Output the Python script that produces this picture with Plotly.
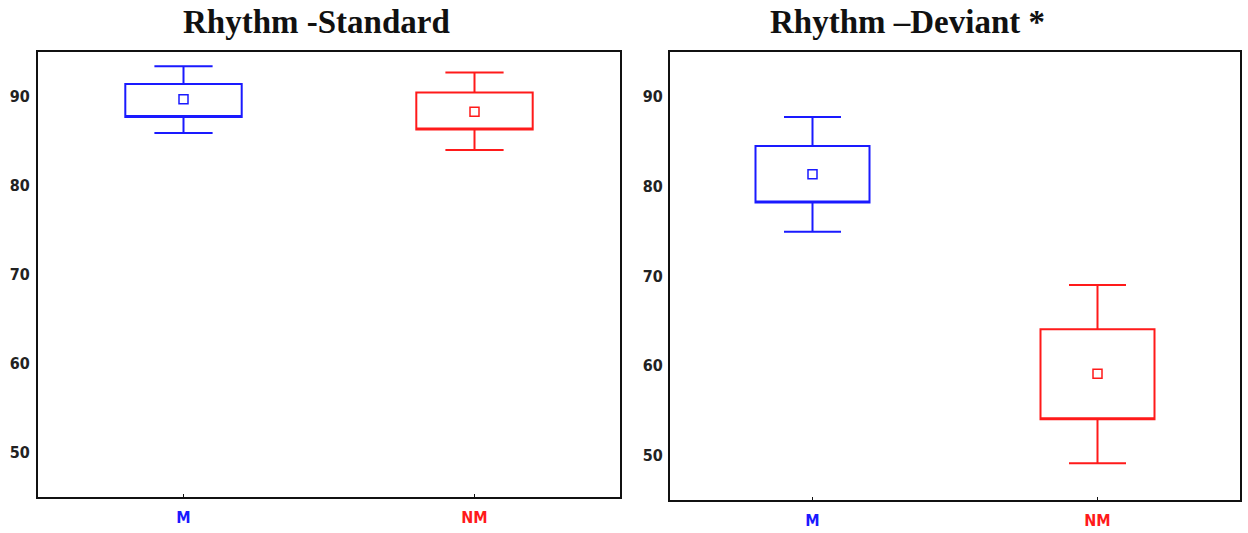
import plotly.graph_objects as go

categories = ["M", "NM"]
cat_colors = ["#1a1aff", "#ff1a1a"]

# Rhythm - Standard
std_mean = [89.7, 88.3]
std_box_low = [87.7, 86.3]
std_box_high = [91.4, 90.45]
std_whisk_low = [85.9, 84.0]
std_whisk_high = [93.4, 92.7]

# Rhythm - Deviant
dev_mean = [81.35, 59.1]
dev_box_low = [78.2, 54.0]
dev_box_high = [84.5, 64.05]
dev_whisk_low = [74.95, 49.1]
dev_whisk_high = [87.75, 69.0]

y_ticks = [50, 60, 70, 80, 90]

W, H = 1248, 533

def px(x):
    return x / W

def py(y):
    return (H - y) / H

fig = go.Figure()

def add_panel(xa, ya, mean, blo, bhi, wlo, whi):
    for i, c in enumerate(categories):
        fig.add_trace(go.Box(
            x=[c], q1=[blo[i]], median=[blo[i]], q3=[bhi[i]],
            lowerfence=[wlo[i]], upperfence=[whi[i]],
            width=0.4, whiskerwidth=0.5,
            line=dict(color=cat_colors[i], width=2),
            fillcolor="rgba(0,0,0,0)",
            xaxis=xa, yaxis=ya, showlegend=False, hoverinfo="skip"))
        fig.add_trace(go.Scatter(
            x=[c], y=[mean[i]], mode="markers",
            marker=dict(symbol="square-open", size=9,
                        color=cat_colors[i], line=dict(width=1.5)),
            xaxis=xa, yaxis=ya, showlegend=False, hoverinfo="skip"))

add_panel("x", "y", std_mean, std_box_low, std_box_high, std_whisk_low, std_whisk_high)
add_panel("x2", "y2", dev_mean, dev_box_low, dev_box_high, dev_whisk_low, dev_whisk_high)

ticktext = [f'<span style="color:{cat_colors[i]}">{c}</span>' for i, c in enumerate(categories)]
tickfont = dict(family="Liberation Sans Narrow, DejaVu Sans Condensed, Liberation Sans, sans-serif",
                size=16, color="#222", weight="bold")

common_x = dict(type="category", range=[-0.5, 1.5], showline=True, mirror=True,
                linecolor="#111", linewidth=2, showgrid=False, zeroline=False,
                tickvals=categories, ticktext=ticktext, ticks="inside", ticklen=3,
                tickcolor="#111", tickfont=tickfont, ticklabelstandoff=5,
                automargin=False)
common_y = dict(range=[45, 95], showline=True, mirror=True, linecolor="#111",
                linewidth=2, showgrid=False, zeroline=False, tickvals=y_ticks,
                ticks="", tickfont=tickfont, automargin=False)

title_font = dict(family="Liberation Serif, Times New Roman, serif", size=33, color="#111")

fig.update_layout(
    width=W, height=H, margin=dict(l=0, r=0, t=0, b=0, autoexpand=False),
    paper_bgcolor="white", plot_bgcolor="white",
    xaxis=dict(common_x, domain=[px(38), px(620)], anchor="y"),
    yaxis=dict(common_y, domain=[py(497), py(52)], anchor="x",
               ticklabelstandoff=3),
    xaxis2=dict(common_x, domain=[px(670), px(1240)], anchor="y2"),
    yaxis2=dict(common_y, domain=[py(500), py(52)], anchor="x2",
                ticklabelstandoff=2),
    annotations=[
        dict(text="<b>Rhythm -Standard</b>", x=px(316), y=py(22),
             xanchor="center", yanchor="middle",
             xref="paper", yref="paper", showarrow=False, font=title_font),
        dict(text="<b>Rhythm –Deviant *</b>", x=px(907), y=py(22),
             xanchor="center", yanchor="middle",
             xref="paper", yref="paper", showarrow=False, font=title_font),
    ],
)

fig.write_html(
    "out.html",
    config={"displayModeBar": False},
    post_script="document.body.style.margin='0';document.body.style.overflow='hidden';",
)
